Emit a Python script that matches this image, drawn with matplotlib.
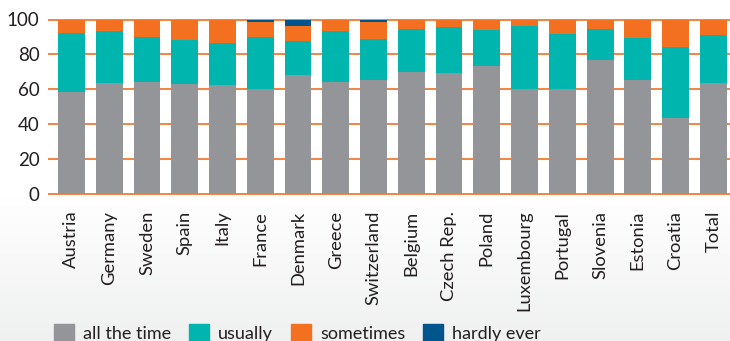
import matplotlib.pyplot as plt
import numpy as np
from matplotlib.patches import Patch

countries = ['Austria', 'Germany', 'Sweden', 'Spain', 'Italy', 'France', 'Denmark',
             'Greece', 'Switzerland', 'Belgium', 'Czech Rep.', 'Poland', 'Luxembourg',
             'Portugal', 'Slovenia', 'Estonia', 'Croatia', 'Total']
all_the_time = [58.7, 63.8, 64.4, 63.2, 62.7, 60.2, 68.2, 64.4, 65.5, 70.1, 69.5,
                73.5, 60.2, 60.2, 77.0, 65.5, 43.8, 63.8]
usually = [33.5, 29.5, 25.5, 25.2, 23.8, 29.7, 19.4, 28.9, 23.3, 24.4, 26.1,
           20.6, 36.2, 31.6, 17.5, 24.0, 40.4, 27.1]
sometimes = [7.8, 6.7, 10.1, 11.6, 13.5, 8.6, 8.8, 6.7, 9.9, 5.5, 4.4,
             5.9, 3.6, 8.2, 5.5, 10.5, 15.8, 9.1]
hardly_ever = [0, 0, 0, 0, 0, 1.5, 3.6, 0, 1.3, 0, 0, 0, 0, 0, 0, 0, 0, 0]

c_gray = '#939598'
c_teal = '#00b5ad'
c_orange = '#f37021'
c_blue = '#00558c'

plt.rcParams['font.family'] = ['Lato', 'DejaVu Sans']

fig = plt.figure(figsize=(7.3, 3.41), dpi=100)

# background gradient (white -> light gray toward the bottom)
bg = fig.add_axes([0, 0, 1, 1], zorder=-10)
grad = np.ones((341, 1))
start = 195
for i in range(start, 341):
    grad[i, 0] = 1 - (i - start) / (341 - start)
bg.imshow(grad, aspect='auto', cmap=plt.matplotlib.colors.LinearSegmentedColormap.from_list(
    'bg', ['#eff0f0', '#ffffff']), vmin=0, vmax=1, extent=[0, 1, 0, 1])
bg.set_axis_off()

ax = fig.add_axes([48 / 730, 1 - 194 / 341, 1 - 48 / 730, (194 - 19.5) / 341])
ax.patch.set_alpha(0)
x = np.arange(len(countries))
w = 0.71
bottom = np.zeros(len(countries))
for vals, col in [(all_the_time, c_gray), (usually, c_teal), (sometimes, c_orange), (hardly_ever, c_blue)]:
    ax.bar(x, vals, w, bottom=bottom, color=col, zorder=3)
    bottom += np.array(vals)

ax.hlines([0, 20, 40, 60, 80, 100], -0.62, 17.44, color=c_orange, lw=1.2, zorder=1, clip_on=False)
ax.set_xlim(-0.62, 17.44)
ax.set_ylim(0, 100)
ax.set_yticks([0, 20, 40, 60, 80, 100])
ax.set_xticks(x)
ax.set_xticklabels(countries, rotation=90)
ax.tick_params(axis='both', length=0, colors='#231f20')
ax.tick_params(axis='y', pad=6, labelsize=13.5)
ax.tick_params(axis='x', pad=12, labelsize=13.2)
for s in ax.spines.values():
    s.set_visible(False)

handles = [Patch(color=c_gray), Patch(color=c_teal), Patch(color=c_orange), Patch(color=c_blue)]
fig.legend(handles, ['all the time', 'usually', 'sometimes', 'hardly ever'],
           loc='upper left', bbox_to_anchor=(38 / 730, 1 - 308 / 341), ncol=4, frameon=False,
           fontsize=13, handlelength=1.1, handleheight=1.1, handletextpad=0.5,
           columnspacing=1.0, labelcolor='#231f20')

fig.savefig('out.png', dpi=100)
